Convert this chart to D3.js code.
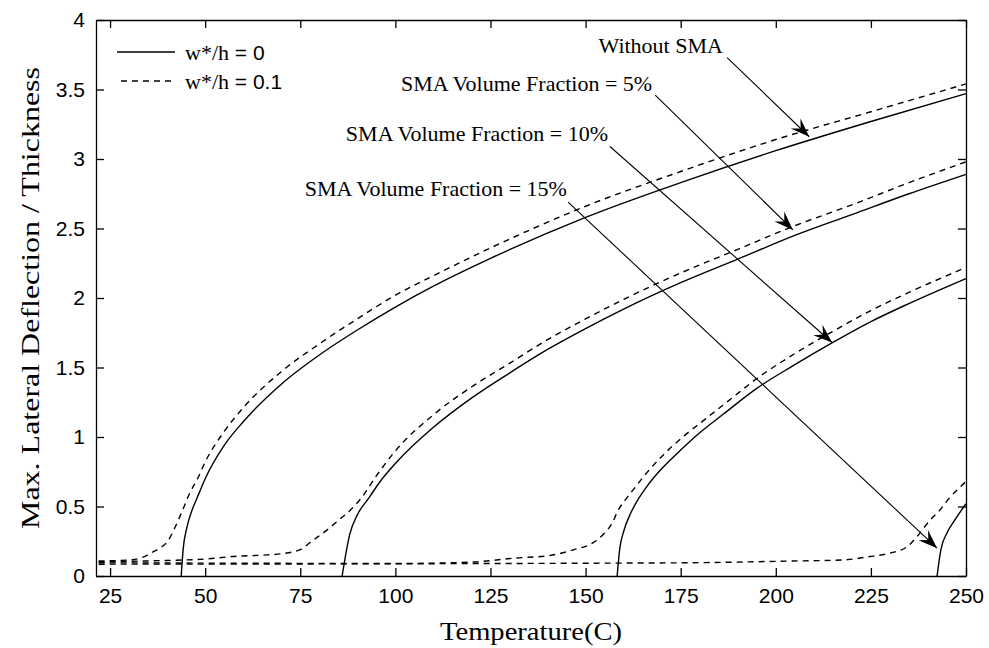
<!DOCTYPE html>
<html>
<head>
<meta charset="utf-8">
<script src="https://cdnjs.cloudflare.com/ajax/libs/d3/7.8.5/d3.min.js"></script>
<style>
  body { margin: 0; background: #fff; }
  .axis text { font-family: "Liberation Sans", Arial, sans-serif; font-size: 21px; fill: #000; }
  .axis path, .axis line { stroke: #000; stroke-width: 1.3px; }
  .ser { font-family: "Liberation Serif", "Times New Roman", serif; fill: #000; }
</style>
</head>
<body>
<div id="chart"></div>
<script>
// ticks
var xTicks = [25, 50, 75, 100, 125, 150, 175, 200, 225, 250];
var yTicks = [0, 0.5, 1, 1.5, 2, 2.5, 3, 3.5, 4];

// Without SMA
var tNoSmaSolid = [43.7, 44.2, 45.2, 46.5, 48, 50, 55, 60, 70, 80, 90, 100, 110, 125, 150, 175, 200, 225, 250];
var dNoSmaSolid = [0, 0.19, 0.35, 0.47, 0.57, 0.70, 0.94, 1.11, 1.38, 1.59, 1.77, 1.935, 2.085, 2.285, 2.58, 2.83, 3.06, 3.27, 3.47];
var tNoSmaDash = [22, 30, 34, 36, 38, 40, 42, 44, 46, 48, 50, 55, 60, 70, 80, 90, 100, 110, 125, 150, 175, 200, 225, 250];
var dNoSmaDash = [0.108, 0.115, 0.14, 0.17, 0.2, 0.245, 0.345, 0.47, 0.6, 0.7, 0.82, 1.04, 1.21, 1.47, 1.67, 1.85, 2.02, 2.16, 2.36, 2.66, 2.91, 3.14, 3.34, 3.54];

// SMA 5%
var t5Solid = [86, 88, 90, 93, 96, 100, 110, 120, 130, 140, 150, 160, 175, 190, 205, 220, 235, 250];
var d5Solid = [0, 0.30, 0.44, 0.56, 0.68, 0.81, 1.07, 1.28, 1.46, 1.63, 1.78, 1.92, 2.11, 2.28, 2.45, 2.60, 2.75, 2.89];
var t5Dash = [22, 40, 50, 57, 65, 70, 75, 78, 82, 85, 88, 91, 95, 100, 110, 120, 130, 140, 150, 160, 175, 190, 205, 220, 235, 250];
var d5Dash = [0.102, 0.112, 0.122, 0.14, 0.15, 0.16, 0.19, 0.25, 0.33, 0.40, 0.47, 0.56, 0.72, 0.90, 1.16, 1.36, 1.53, 1.70, 1.85, 1.99, 2.18, 2.35, 2.52, 2.67, 2.83, 2.98];

// SMA 10%
var t10Solid = [158.3, 159, 160, 162, 164, 166, 168, 171, 174, 180, 186, 195, 205, 215, 225, 235, 250];
var d10Solid = [0, 0.2, 0.32, 0.46, 0.56, 0.64, 0.71, 0.80, 0.88, 1.03, 1.16, 1.35, 1.52, 1.68, 1.83, 1.96, 2.14];
var t10Dash = [22, 60, 100, 120, 132, 140, 147, 152, 155, 157, 158.5, 160.5, 162.5, 166, 170, 176, 182, 188, 195, 205, 215, 225, 235, 250];
var d10Dash = [0.095, 0.092, 0.09, 0.10, 0.13, 0.145, 0.19, 0.24, 0.31, 0.38, 0.47, 0.55, 0.62, 0.74, 0.86, 1.01, 1.14, 1.27, 1.42, 1.60, 1.76, 1.91, 2.04, 2.22];

// SMA 15%
var t15Solid = [242.4, 243.4, 245, 247, 250];
var d15Solid = [0, 0.19, 0.31, 0.40, 0.52];
var t15Dash = [22, 100, 150, 180, 204.5, 217.7, 224, 230, 234.5, 237, 240.5, 243, 245.3, 250];
var d15Dash = [0.085, 0.088, 0.092, 0.096, 0.108, 0.115, 0.137, 0.165, 0.21, 0.28, 0.40, 0.47, 0.55, 0.68];

// annotations: label, label end (T, D), arrow tail, arrow tip
var noteLabels = ["Without SMA", "SMA Volume Fraction = 5%", "SMA Volume Fraction = 10%", "SMA Volume Fraction = 15%"];
var noteTextT = [186.1, 167.5, 155.9, 145.1];
var noteTextD = [3.82, 3.54, 3.18, 2.79];
var arrowTailT = [187.2, 168.3, 156.4, 145.4];
var arrowTailD = [3.73, 3.46, 3.09, 2.69];
var arrowTipT = [208.8, 204.5, 214.8, 242.4];
var arrowTipD = [3.16, 2.49, 1.68, 0.20];

var W = 989, H = 648;
var margin = {top: 20, right: 23, bottom: 72, left: 96};
var width = W - margin.left - margin.right;
var height = H - margin.top - margin.bottom;

var svg = d3.select("#chart").append("svg")
    .attr("width", W)
    .attr("height", H)
  .append("g")
    .attr("transform", "translate(" + margin.left + "," + margin.top + ")");

var x = d3.scaleLinear().domain([21.3, 250]).range([0, width]);
var y = d3.scaleLinear().domain([0, 4]).range([height, 0]);

// axes, ticks pointing inside like matlab
svg.append("g").attr("class", "axis")
    .attr("transform", "translate(0," + height + ")")
    .call(d3.axisBottom(x).tickValues(xTicks).tickSizeInner(-8).tickSizeOuter(0).tickPadding(12));
svg.append("g").attr("class", "axis")
    .call(d3.axisLeft(y).tickValues(yTicks).tickSizeInner(-8).tickSizeOuter(0).tickPadding(11)
      .tickFormat(function(d) { return d; }));
svg.append("g").attr("class", "axis")
    .call(d3.axisTop(x).tickValues(xTicks).tickSizeInner(-8).tickSizeOuter(0).tickFormat(""));
svg.append("g").attr("class", "axis")
    .attr("transform", "translate(" + width + ",0)")
    .call(d3.axisRight(y).tickValues(yTicks).tickSizeInner(-8).tickSizeOuter(0).tickFormat(""));

// axis titles
svg.append("text")
    .attr("class", "ser")
    .attr("x", width / 2)
    .attr("y", height + 55)
    .attr("text-anchor", "middle")
    .attr("dominant-baseline", "central")
    .style("font-size", "25px")
    .attr("textLength", 182)
    .attr("lengthAdjust", "spacingAndGlyphs")
    .text("Temperature(C)");

svg.append("text")
    .attr("class", "ser")
    .attr("transform", "translate(-66," + (298 - margin.top) + ") rotate(-90)")
    .attr("text-anchor", "middle")
    .attr("dominant-baseline", "central")
    .style("font-size", "25px")
    .attr("textLength", 462)
    .attr("lengthAdjust", "spacingAndGlyphs")
    .text("Max. Lateral Deflection / Thickness");

// curves
var line = d3.line()
    .x(function(d) { return x(d[0]); })
    .y(function(d) { return y(d[1]); })
    .curve(d3.curveMonotoneX);

function series(ts, ds) { return ts.map(function(t, i) { return [t, ds[i]]; }); }

var curves = [
  {pts: series(tNoSmaSolid, dNoSmaSolid), dash: null},
  {pts: series(tNoSmaDash, dNoSmaDash), dash: "6,5"},
  {pts: series(t5Solid, d5Solid), dash: null},
  {pts: series(t5Dash, d5Dash), dash: "6,5"},
  {pts: series(t10Solid, d10Solid), dash: null},
  {pts: series(t10Dash, d10Dash), dash: "6,5"},
  {pts: series(t15Solid, d15Solid), dash: null},
  {pts: series(t15Dash, d15Dash), dash: "6,5"}
];

svg.selectAll("path.curve")
    .data(curves)
    .enter().append("path")
    .attr("class", "curve")
    .attr("d", function(d) { return line(d.pts); })
    .attr("fill", "none")
    .attr("stroke", "#000")
    .attr("stroke-width", 1.4)
    .attr("stroke-dasharray", function(d) { return d.dash; });

// arrowhead
svg.append("defs").append("marker")
    .attr("id", "head")
    .attr("viewBox", "-20 -10 22 20")
    .attr("refX", 0).attr("refY", 0)
    .attr("markerWidth", 22).attr("markerHeight", 20)
    .attr("markerUnits", "userSpaceOnUse")
    .attr("orient", "auto")
  .append("path")
    .attr("d", "M0,0 L-19,-7 L-12,0 L-19,7 Z")
    .attr("fill", "#000");

noteLabels.forEach(function(lbl, i) {
  svg.append("line")
      .attr("x1", x(arrowTailT[i])).attr("y1", y(arrowTailD[i]))
      .attr("x2", x(arrowTipT[i])).attr("y2", y(arrowTipD[i]))
      .attr("stroke", "#000")
      .attr("stroke-width", 1.1)
      .attr("marker-end", "url(#head)");
  svg.append("text")
      .attr("class", "ser")
      .attr("x", x(noteTextT[i]))
      .attr("y", y(noteTextD[i]))
      .attr("text-anchor", "end")
      .attr("dominant-baseline", "central")
      .style("font-size", "22px")
      .text(lbl);
});

// legend
var legend = svg.append("g");
var legRows = [{label: "w*/h", val: " = 0", dash: null, x0: 21, yy: 32},
               {label: "w*/h", val: " = 0.1", dash: "6,5", x0: 25, yy: 61}];
legRows.forEach(function(r) {
  legend.append("line")
      .attr("x1", r.x0).attr("x2", 79)
      .attr("y1", r.yy).attr("y2", r.yy)
      .attr("stroke", "#000")
      .attr("stroke-width", 1.4)
      .attr("stroke-dasharray", r.dash);
  var t = legend.append("text")
      .attr("x", 89)
      .attr("y", r.yy)
      .attr("dominant-baseline", "central");
  t.append("tspan").attr("class", "ser").style("font-size", "22px").text(r.label);
  t.append("tspan").style("font-family", "Liberation Sans, Arial, sans-serif").style("font-size", "21px").text(r.val);
});
</script>
</body>
</html>
